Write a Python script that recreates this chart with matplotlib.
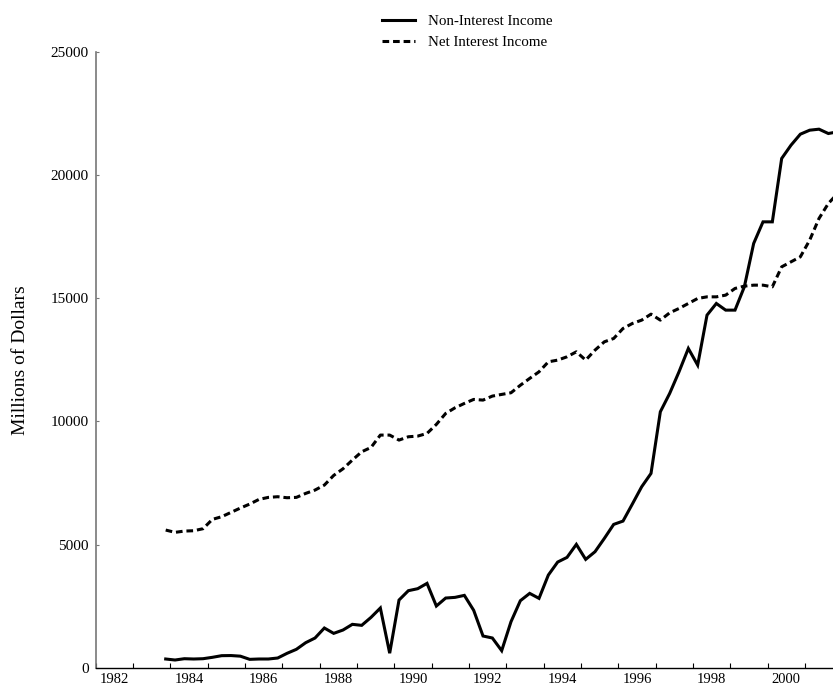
import numpy as np
import matplotlib
matplotlib.use("Agg")
import matplotlib.pyplot as plt

# quarterly data, first quarter is 1983 Q4 (plotted at mid-quarter)
first_year = 1983
first_quarter = 4

non_interest = [365, 324, 377, 365, 377, 433, 500, 505, 480, 351,
                365, 365, 405, 595, 757, 1027, 1216, 1622, 1405, 1541,
                1771, 1730, 2054, 2433, 600, 2757, 3136, 3217, 3433, 2514,
                2838, 2865, 2946, 2340, 1298, 1217, 703, 1879, 2730, 3027,
                2825, 3771, 4298, 4487, 5014, 4406, 4717, 5257, 5825, 5960,
                6650, 7352, 7893, 10394, 11138, 12015, 12962, 12286, 14314, 14787,
                14517, 14517, 15462, 17222, 18098, 18098, 20668, 21208, 21654, 21816,
                21857, 21681, 21750]

net_interest = [5596, 5502, 5555, 5568, 5650, 6029, 6137, 6313, 6488, 6650,
                6840, 6921, 6948, 6907, 6921, 7083, 7218, 7420, 7812, 8082,
                8434, 8771, 8947, 9448, 9448, 9245, 9380, 9407, 9515, 9881,
                10327, 10555, 10732, 10895, 10867, 11030, 11098, 11165, 11470, 11747,
                12015, 12420, 12489, 12624, 12826, 12489, 12895, 13232, 13367, 13772,
                13975, 14111, 14354, 14111, 14408, 14584, 14787, 14990, 15056, 15056,
                15125, 15396, 15490, 15530, 15530, 15462, 16273, 16476, 16678, 17355,
                18235, 18843, 19250]

year_labels = [1982, 1984, 1986, 1988, 1990, 1992, 1994, 1996, 1998, 2000]
y_ticks = [0, 5000, 10000, 15000, 20000, 25000]

plt.rcParams['font.family'] = ['Liberation Serif', 'DejaVu Serif']
plt.rcParams['lines.scale_dashes'] = False

n = len(non_interest)
dates = first_year + (first_quarter - 0.5) / 4 + 0.25 * np.arange(n)

fig = plt.figure(figsize=(8.33, 6.85), dpi=100)
ax = fig.add_axes([95.7 / 833, 1 - 668 / 685, 1 - 95.7 / 833, (668 - 51.7) / 685])

ax.plot(dates, non_interest, color='black', lw=2.2, label='Non-Interest Income',
        solid_joinstyle='miter')
ax.plot(dates, net_interest, color='black', lw=2.2, dashes=(4.8, 2.8),
        label='Net Interest Income')

ax.set_xlim(1982, 2001.75)
ax.set_ylim(0, 25000)

# year labels centred in the year, tick marks on the year boundaries
ax.set_xticks([y + 0.5 for y in year_labels])
ax.set_xticklabels([str(y) for y in year_labels], fontsize=10.5)
ax.set_xticks(np.arange(1982, 2002), minor=True)
ax.tick_params(axis='x', which='major', length=0, pad=3.5)
ax.tick_params(axis='x', which='minor', direction='in', length=3.5, width=0.8)

ax.set_yticks(y_ticks)
ax.set_yticklabels([str(v) for v in y_ticks], fontsize=11)
ax.tick_params(axis='y', direction='in', length=2.5, width=0.8, pad=5, color='#777777')

ax.spines['top'].set_visible(False)
ax.spines['right'].set_visible(False)
ax.spines['left'].set_color('#777777')
ax.spines['left'].set_linewidth(1.2)
ax.spines['bottom'].set_linewidth(1.0)

ax.set_ylabel('Millions of Dollars', fontsize=14)
ax.yaxis.set_label_coords(-0.09, 0.5)

fig.legend(loc='upper left', bbox_to_anchor=(374.5 / 833, 1 - 7 / 685),
           frameon=False, fontsize=10.8, handlelength=2.2, handletextpad=0.9,
           borderpad=0, labelspacing=0.5)

fig.savefig('out.png', dpi=100)
